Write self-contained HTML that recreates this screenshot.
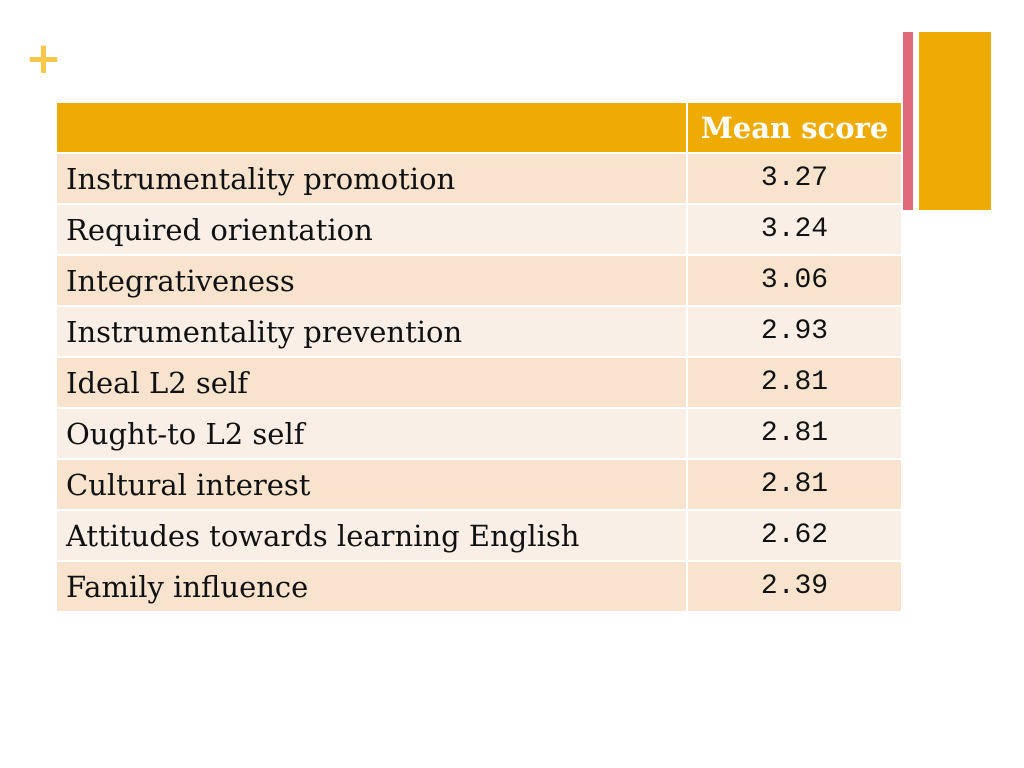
<!DOCTYPE html>
<html><head><meta charset="utf-8"><style>
body{margin:0;width:1024px;height:768px;background:#fff;position:relative;overflow:hidden;font-family:"DejaVu Serif","Liberation Serif",serif}
.plus{position:absolute;left:25px;top:37px;color:#F8C64A;font:bold 44px "DejaVu Sans",sans-serif;line-height:44px}
.pink{position:absolute;left:903px;top:32px;width:10px;height:178px;background:#E06A7A}
.gold{position:absolute;left:919px;top:32px;width:72px;height:178px;background:#EEAB03}
table{position:absolute;left:55px;top:101px;border-collapse:collapse;width:848px}
td,th{border:2px solid #fff;padding:0 0 0 9px;height:49px;font-size:29px;color:#111;text-align:left}
th{background:#EEAB03;color:#fff;font-weight:bold;text-align:center;padding:0;height:49px;font-size:29px}
td.v{text-align:center;padding:0;font-family:"Liberation Mono",monospace;font-size:28px;width:213px}
tr.o td{background:#F7E3CE}
tr.e td{background:#FAEFE6}
</style></head><body>
<div class="plus">+</div>
<div class="pink"></div>
<div class="gold"></div>
<table>
<tr><th></th><th>Mean score</th></tr>
<tr class="o"><td>Instrumentality promotion</td><td class="v">3.27</td></tr>
<tr class="e"><td>Required orientation</td><td class="v">3.24</td></tr>
<tr class="o"><td>Integrativeness</td><td class="v">3.06</td></tr>
<tr class="e"><td>Instrumentality prevention</td><td class="v">2.93</td></tr>
<tr class="o"><td>Ideal L2 self</td><td class="v">2.81</td></tr>
<tr class="e"><td>Ought-to L2 self</td><td class="v">2.81</td></tr>
<tr class="o"><td>Cultural interest</td><td class="v">2.81</td></tr>
<tr class="e"><td>Attitudes towards learning English</td><td class="v">2.62</td></tr>
<tr class="o"><td>Family influence</td><td class="v">2.39</td></tr>
</table>
</body></html>
